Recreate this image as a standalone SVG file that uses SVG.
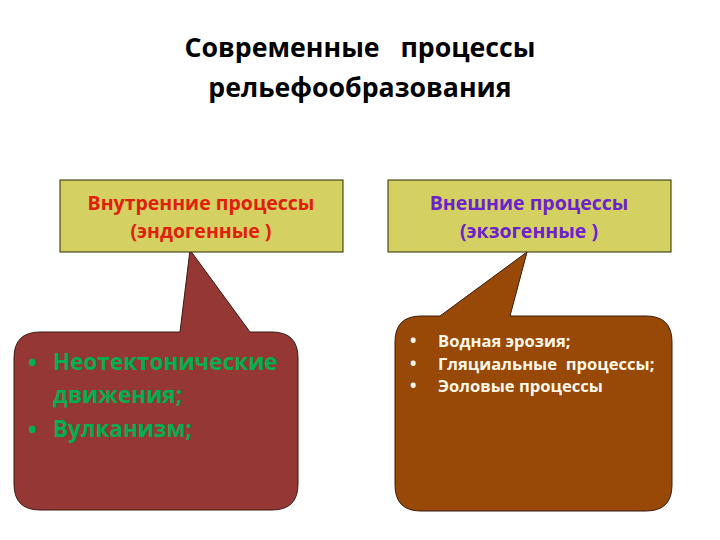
<svg xmlns="http://www.w3.org/2000/svg" width="720" height="540" viewBox="0 0 720 540">
<style>
text{font-family:"Open Sans","Noto Sans","DejaVu Sans",sans-serif}
.title{font-size:26.7px;font-weight:bold;fill:#000;text-anchor:middle}
.hdr{fill:#D4D062;stroke:#2a2a00;stroke-width:1}
.h{font-size:19.5px;font-weight:bold;text-anchor:middle}
.lb{font-size:22.5px;font-weight:bold;fill:#00B050}
.lbul{font-size:24px;font-weight:bold;fill:#00B050}
.rb{font-size:16.6px;font-weight:bold;fill:#FFF8E8}
.rbul{font-size:17px;font-weight:bold;fill:#FFF8E8}
.co{stroke:#3a1a10;stroke-width:1}
</style>
<rect width="720" height="540" fill="#fff"/>
<g id="title">
<text class="title" x="360" y="57" xml:space="preserve">Современные   процессы</text>
<text class="title" x="360" y="97">рельефообразования</text>
</g>
<g id="endo-callout">
<path class="co" fill="#953735" d="M40,332 L180,332 L190,250 L250,332 L272,332 Q298,332 298,358 L298,484 Q298,510 272,510 L40,510 Q14,510 14,484 L14,358 Q14,332 40,332 Z"/>
<text class="lbul" x="28" y="371">•</text>
<text class="lb" x="53" y="370">Неотектонические</text>
<text class="lb" x="53" y="403">движения;</text>
<text class="lbul" x="28" y="438">•</text>
<text class="lb" x="53" y="437">Вулканизм;</text>
</g>
<g id="endo">
<rect class="hdr" x="60" y="180" width="283" height="72"/>
<text class="h" x="201" y="210" fill="#E0200A">Внутренние процессы</text>
<text class="h" x="201" y="238" fill="#E0200A">(эндогенные )</text>
</g>
<g id="exo-callout">
<path class="co" fill="#984807" d="M421,316 L440,316 L527,252 L510,316 L646,316 Q672,316 672,342 L672,485 Q672,511 646,511 L421,511 Q395,511 395,485 L395,342 Q395,316 421,316 Z"/>
<text class="rbul" x="410" y="347">•</text>
<text class="rb" x="438" y="347">Водная эрозия;</text>
<text class="rbul" x="410" y="370">•</text>
<text class="rb" x="438" y="370" xml:space="preserve">Гляциальные  процессы;</text>
<text class="rbul" x="410" y="392">•</text>
<text class="rb" x="438" y="392">Эоловые процессы</text>
</g>
<g id="exo">
<rect class="hdr" x="388" y="180" width="283" height="72"/>
<text class="h" x="529" y="210" fill="#6B22CC">Внешние процессы</text>
<text class="h" x="529" y="238" fill="#6B22CC">(экзогенные )</text>
</g>
<g id="connectors"></g>
</svg>
